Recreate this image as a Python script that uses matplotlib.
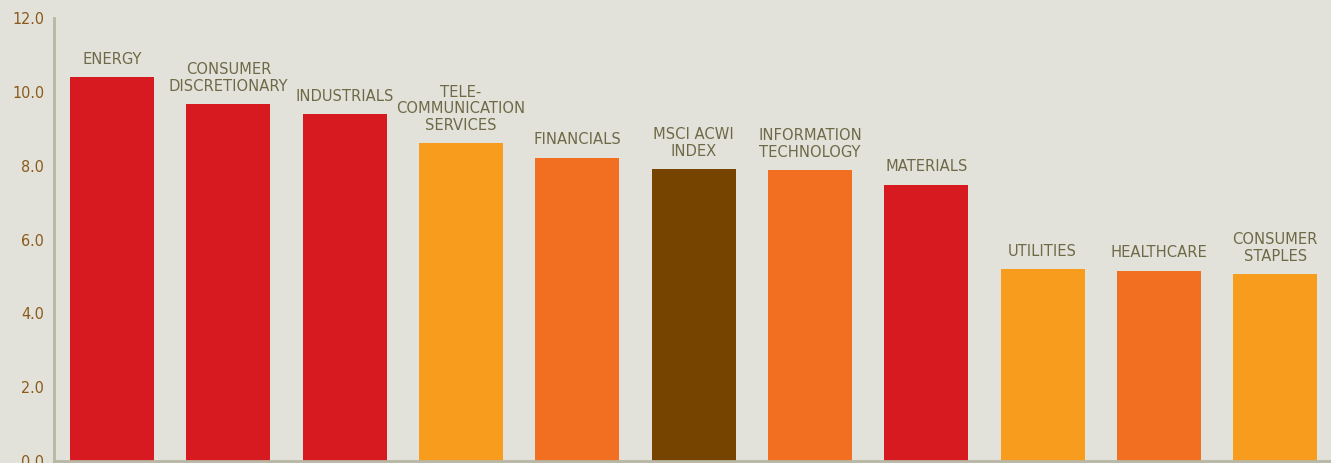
import matplotlib.pyplot as plt
from matplotlib import font_manager

sectors = ["ENERGY", "CONSUMER\nDISCRETIONARY", "INDUSTRIALS", "TELE-\nCOMMUNICATION\nSERVICES",
           "FINANCIALS", "MSCI ACWI\nINDEX", "INFORMATION\nTECHNOLOGY", "MATERIALS",
           "UTILITIES", "HEALTHCARE", "CONSUMER\nSTAPLES"]
values = [10.40, 9.67, 9.40, 8.61, 8.21, 7.91, 7.88, 7.48, 5.20, 5.15, 5.06]
colors = ["#D71920", "#D71920", "#D71920", "#F79C1C", "#F26F21", "#774400",
          "#F26F21", "#D71920", "#F79C1C", "#F26F21", "#F79C1C"]
yticks = [0, 2, 4, 6, 8, 10, 12]

# pick the narrowest face installed, the reference uses a condensed gothic
order = {"ultra-condensed": 0, "extra-condensed": 1, "condensed": 2, "semi-condensed": 3}
cands = [f for f in font_manager.fontManager.ttflist
         if f.stretch in order and f.style == "normal"]
cands.sort(key=lambda f: (order[f.stretch], abs(f.weight - 400) if isinstance(f.weight, int) else 0))
if cands:
    narrow = cands[0]
    font = dict(family=[narrow.name, 'DejaVu Sans'], stretch=narrow.stretch)
    size, tsize = 11.8, 11.5
else:
    font = dict(family=['Roboto', 'DejaVu Sans'])
    size, tsize = 10.5, 10.5

bg = "#E3E2DA"

fig = plt.figure(figsize=(13.31, 4.63), dpi=100, facecolor=bg)
ax = fig.add_axes([54 / 1331, 2 / 463, 1277 / 1331, 443 / 463])
ax.set_facecolor(bg)

x = list(range(len(values)))
ax.bar(x, values, width=0.722, color=colors, zorder=2)

for i, (v, lab) in enumerate(zip(values, sectors)):
    ax.annotate(lab, (i, v), xytext=(0, 7.5), textcoords="offset points",
                ha="center", va="bottom", fontsize=size, color="#6E6A48",
                weight="medium", linespacing=1.12, **font)

ax.set_xlim(-0.5, 10.48)
ax.set_ylim(0, 12)
ax.set_xticks([])
ax.set_yticks(yticks)
ax.set_yticklabels([f"{t:.1f}" for t in yticks])
for t in ax.get_yticklabels():
    t.set_fontsize(tsize)
    t.set_color("#8B5A1A")
    t.set_fontfamily(font["family"])
    if "stretch" in font:
        t.set_fontstretch(font["stretch"])
ax.tick_params(axis="y", length=0, pad=7)
for s in ["top", "right"]:
    ax.spines[s].set_visible(False)
for s in ["left", "bottom"]:
    ax.spines[s].set_color("#B8B6A4")
    ax.spines[s].set_linewidth(2)

fig.savefig("out.png", dpi=100, facecolor=bg)
